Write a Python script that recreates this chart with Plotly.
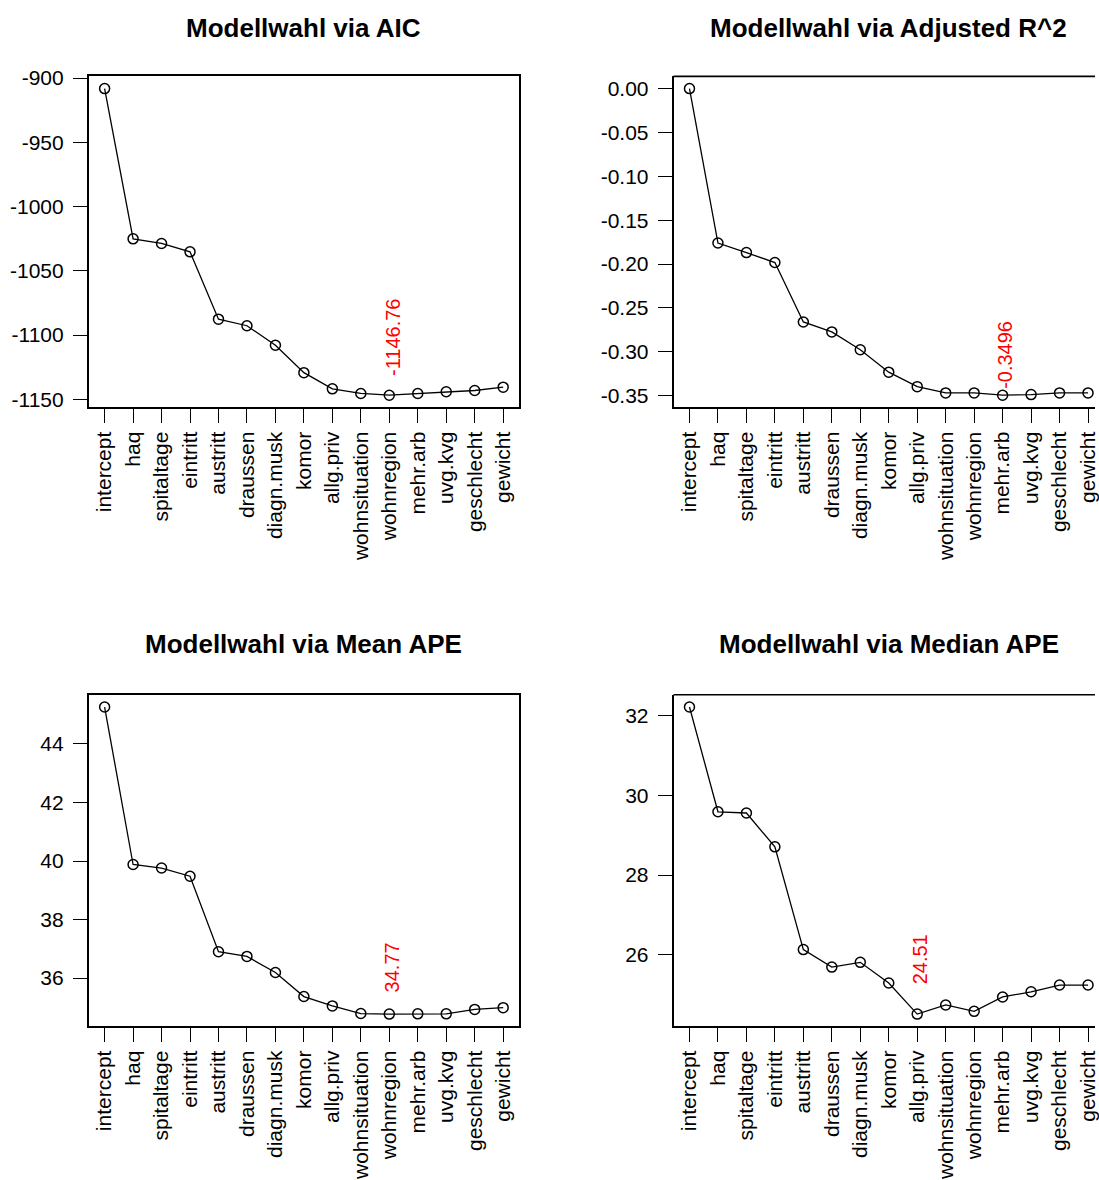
import plotly.graph_objects as go

# Stepwise model selection: criterion value after adding each variable
variables = ["intercept", "haq", "spitaltage", "eintritt", "austritt", "draussen",
             "diagn.musk", "komor", "allg.priv", "wohnsituation", "wohnregion",
             "mehr.arb", "uvg.kvg", "geschlecht", "gewicht"]

aic = [-908.2, -1025.1, -1028.7, -1035.2, -1087.6, -1092.7, -1107.9, -1129.2,
       -1141.8, -1145.4, -1146.76, -1145.4, -1144.1, -1143.1, -1140.5]
adj_r2 = [0.0, -0.1761, -0.1870, -0.1983, -0.2661, -0.2774, -0.2977, -0.3233,
          -0.3398, -0.3470, -0.3470, -0.3496, -0.3489, -0.3470, -0.3470]
mean_ape = [45.26, 39.88, 39.76, 39.48, 36.90, 36.74, 36.19, 35.37, 35.05,
            34.79, 34.77, 34.78, 34.78, 34.93, 34.99]
median_ape = [32.22, 29.59, 29.56, 28.71, 26.13, 25.69, 25.81, 25.29, 24.51,
              24.74, 24.58, 24.94, 25.07, 25.24, 25.24]

titles = ["Modellwahl via AIC", "Modellwahl via Adjusted R^2",
          "Modellwahl via Mean APE", "Modellwahl via Median APE"]

aic_ticks = [-1150, -1100, -1050, -1000, -950, -900]
aic_ticktext = ["-1150", "-1100", "-1050", "-1000", "-950", "-900"]
r2_ticks = [-0.35, -0.30, -0.25, -0.20, -0.15, -0.10, -0.05, 0.0]
r2_ticktext = ["-0.35", "-0.30", "-0.25", "-0.20", "-0.15", "-0.10", "-0.05", "0.00"]
mean_ticks = [36, 38, 40, 42, 44]
median_ticks = [26, 28, 30, 32]

W, H = 1099, 1180
FONT = "Liberation Sans, Arial, sans-serif"

# panel boxes in pixels: (left, right, top, bottom); right column runs off the page
boxes = [(89, 521, 68, 407.5), (676, 1108, 68, 407.5),
         (89, 521, 702, 1042), (676, 1108, 702, 1042)]
title_y = [18, 18, 650, 650]

panels = [
    (aic, aic_ticks, aic_ticktext, "{:.2f}", 17),
    (adj_r2, r2_ticks, r2_ticktext, "{:.4f}", 4),
    (mean_ape, mean_ticks, [str(t) for t in mean_ticks], "{:.2f}", 20),
    (median_ape, median_ticks, [str(t) for t in median_ticks], "{:.2f}", 28),
]

fig = go.Figure()
n = len(variables)
x_lo, x_hi = -0.04 * (n - 1), (n - 1) * 1.04

for i, ((vals, yt, ytt, fmt, lift), (l, r, t, b), ty, title) in enumerate(
        zip(panels, boxes, title_y, titles)):
    k = "" if i == 0 else str(i + 1)
    xa, ya = "x" + k, "y" + k
    px_per_unit = (r - l) / (x_hi - x_lo)
    r_vis = min(r, W)
    x_range = [x_lo, x_lo + (r_vis - l) / px_per_unit]

    vmin, vmax = min(vals), max(vals)
    span = vmax - vmin
    y_range = [vmin - 0.04 * span, vmax + 0.04 * span]
    full_box = r <= W

    fig.add_trace(go.Scatter(
        x=variables, y=vals, mode="lines+markers", xaxis=xa, yaxis=ya,
        line=dict(color="black", width=1.3),
        marker=dict(symbol="circle-open", size=10, color="black", line=dict(width=1.5)),
        showlegend=False, hoverinfo="x+y"))

    fig.layout["xaxis" + k] = dict(
        domain=[l / W, r_vis / W], range=x_range, type="category",
        anchor=ya, showline=True, linecolor="black", linewidth=1.6,
        mirror=full_box, ticks="outside", ticklen=14, tickwidth=1.3,
        tickcolor="black", tickangle=-90, ticklabelstandoff=0,
        tickfont=dict(family=FONT, size=21, color="black"),
        showgrid=False, zeroline=False, fixedrange=True)
    fig.layout["yaxis" + k] = dict(
        domain=[1 - b / H, 1 - t / H], range=y_range, anchor=xa,
        showline=True, linecolor="black", linewidth=1.6, mirror=full_box,
        ticks="outside", ticklen=14, tickwidth=1.3, tickcolor="black",
        tickvals=yt, ticktext=ytt, ticklabelstandoff=5,
        tickfont=dict(family=FONT, size=21, color="black"),
        showgrid=False, zeroline=False, fixedrange=True)

    if not full_box:
        fig.add_shape(type="line", xref=xa + " domain", yref=ya + " domain",
                      x0=0, x1=1, y0=1, y1=1,
                      line=dict(color="black", width=1.6))

    # title centred over the box
    fig.add_annotation(text="<b>" + title + "</b>", xref="paper", yref="paper",
                       x=(l + r) / 2 / W, y=1 - ty / H,
                       xanchor="center", yanchor="middle", showarrow=False,
                       font=dict(family=FONT, size=26, color="black"))

    # best value, written vertically above the optimum
    j = vals.index(vmin)
    fig.add_annotation(text=fmt.format(vmin), xref=xa, yref=ya,
                       x=variables[j], y=vmin, xanchor="center", yanchor="bottom",
                       yshift=lift, xshift=3, textangle=-90, showarrow=False,
                       font=dict(family=FONT, size=20, color="#FF0000"))

fig.update_layout(width=W, height=H, margin=dict(l=0, r=0, t=0, b=0),
                  paper_bgcolor="white", plot_bgcolor="white",
                  font=dict(family=FONT, color="black"))

fig.write_html("out.html", config={"displayModeBar": False})
